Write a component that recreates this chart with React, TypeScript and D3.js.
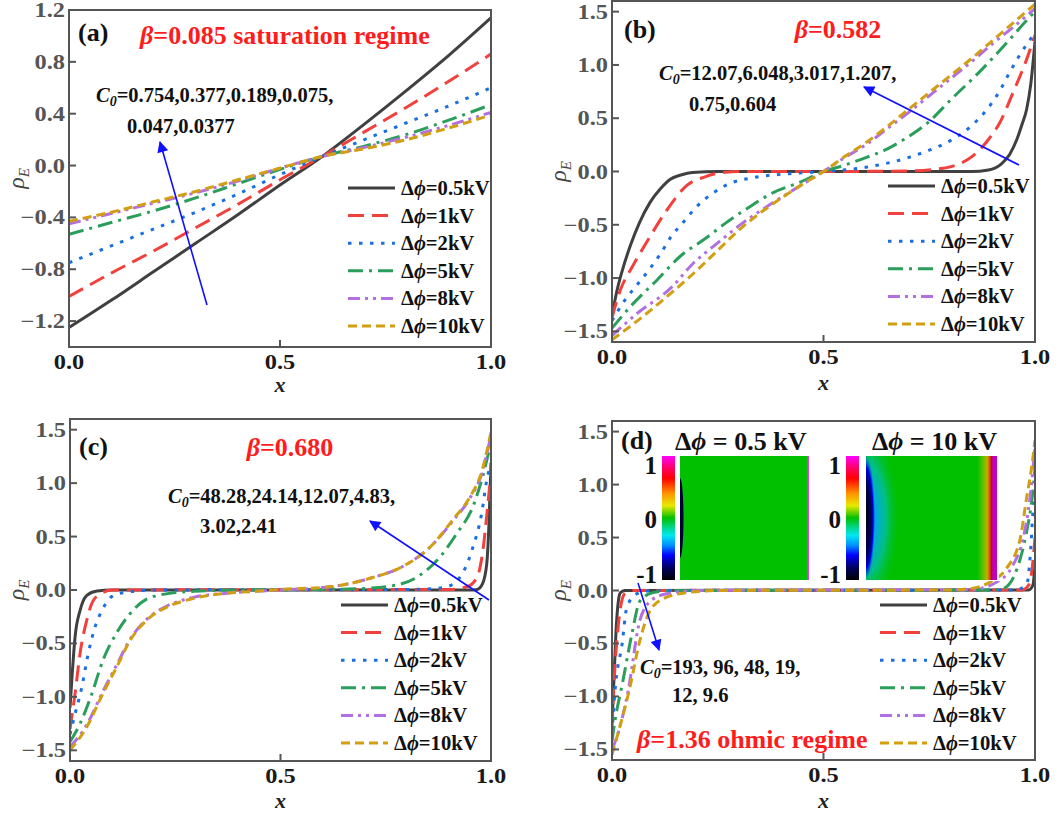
import React from 'react';
import * as d3 from 'd3';

type Pt = [number, number];

// ---------- Legend / style tables ----------
const SERIES_LABELS = ['0.5kV', '1kV', '2kV', '5kV', '8kV', '10kV'];
const COLORS = ['#404040', '#f2403d', '#1b6fe0', '#2a9e5a', '#b26fe0', '#d29f12'];
const DASHES = ['', '16 8', '3.5 7.5', '15 6 3 6', '12 5 3 5 3 5', '9 5'];

// ---------- Panel (a) beta=0.085 ----------
const A_X = [0, 0.1, 0.2, 0.3, 0.4, 0.5, 0.6, 0.7, 0.8, 0.9, 1.0];
const a05 = [-1.25, -1.04, -0.82, -0.6, -0.38, -0.15, 0.07, 0.32, 0.58, 0.85, 1.14];
const a1 = [-1.01, -0.83, -0.66, -0.48, -0.3, -0.11, 0.07, 0.26, 0.45, 0.65, 0.86];
const a2 = [-0.75, -0.62, -0.49, -0.36, -0.22, -0.07, 0.07, 0.2, 0.33, 0.46, 0.6];
const a5 = [-0.53, -0.44, -0.35, -0.25, -0.14, -0.03, 0.07, 0.15, 0.24, 0.35, 0.47];
const a8 = [-0.45, -0.37, -0.29, -0.21, -0.12, -0.02, 0.07, 0.14, 0.22, 0.31, 0.41];
const a10 = [-0.43, -0.36, -0.28, -0.2, -0.11, -0.02, 0.07, 0.13, 0.2, 0.29, 0.39];
const A_YTICKS = [-1.2, -0.8, -0.4, 0.0, 0.4, 0.8, 1.2];

// ---------- Panel (b) beta=0.582 ----------
const b05: Pt[] = [[0, -1.36], [0.01, -1.15], [0.025, -0.92], [0.043, -0.7], [0.065, -0.48], [0.09, -0.29], [0.115, -0.16], [0.137, -0.075], [0.165, -0.03], [0.19, -0.01], [0.25, 0], [0.5, 0], [0.85, 0], [0.89, 0.015], [0.92, 0.07], [0.94, 0.16], [0.957, 0.3], [0.97, 0.45], [0.98, 0.58], [0.99, 0.82], [1.0, 1.22]];
const b1: Pt[] = [[0, -1.37], [0.02, -1.11], [0.05, -0.88], [0.09, -0.61], [0.13, -0.36], [0.177, -0.13], [0.22, -0.05], [0.26, -0.01], [0.3, 0], [0.5, 0], [0.7, 0.005], [0.76, 0.02], [0.806, 0.05], [0.84, 0.11], [0.863, 0.18], [0.89, 0.3], [0.917, 0.46], [0.948, 0.74], [0.98, 1.05], [1.0, 1.28]];
const b2: Pt[] = [[0, -1.4], [0.03, -1.21], [0.06, -1.06], [0.09, -0.91], [0.115, -0.77], [0.14, -0.61], [0.17, -0.47], [0.2, -0.33], [0.24, -0.2], [0.28, -0.11], [0.33, -0.06], [0.42, -0.02], [0.5, 0], [0.6, 0.04], [0.7, 0.13], [0.75, 0.2], [0.8, 0.29], [0.85, 0.43], [0.89, 0.6], [0.92, 0.78], [0.94, 0.93], [0.965, 1.1], [1.0, 1.3]];
const b5: Pt[] = [[0, -1.47], [0.05, -1.24], [0.106, -1.02], [0.16, -0.8], [0.224, -0.62], [0.27, -0.48], [0.326, -0.33], [0.38, -0.2], [0.445, -0.1], [0.5, 0], [0.55, 0.06], [0.6, 0.13], [0.65, 0.21], [0.69, 0.3], [0.75, 0.47], [0.8, 0.67], [0.87, 0.94], [0.936, 1.22], [0.983, 1.43], [1.0, 1.5]];
const b8: Pt[] = [[0, -1.54], [0.06, -1.33], [0.14, -1.09], [0.19, -0.87], [0.25, -0.67], [0.31, -0.48], [0.37, -0.32], [0.43, -0.17], [0.5, 0], [0.55, 0.13], [0.6, 0.25], [0.65, 0.4], [0.7, 0.55], [0.75, 0.71], [0.8, 0.87], [0.85, 1.03], [0.9, 1.2], [0.95, 1.36], [1.0, 1.53]];
const b10: Pt[] = [[0, -1.58], [0.07, -1.37], [0.14, -1.14], [0.2, -0.93], [0.25, -0.74], [0.3, -0.55], [0.35, -0.39], [0.4, -0.25], [0.45, -0.12], [0.5, 0], [0.55, 0.14], [0.6, 0.27], [0.65, 0.42], [0.7, 0.58], [0.75, 0.74], [0.8, 0.9], [0.85, 1.06], [0.9, 1.23], [0.95, 1.4], [1.0, 1.57]];
const BCD_YTICKS = [-1.5, -1.0, -0.5, 0.0, 0.5, 1.0, 1.5];

// ---------- Panel (c) beta=0.680 ----------
const c05: Pt[] = [[0, -1.1], [0.005, -0.8], [0.012, -0.44], [0.024, -0.19], [0.04, -0.05], [0.064, -0.01], [0.1, 0], [0.95, 0], [0.967, 0.005], [0.98, 0.06], [0.99, 0.25], [0.995, 0.6], [1.0, 1.19]];
const c1: Pt[] = [[0, -1.3], [0.012, -0.97], [0.024, -0.59], [0.04, -0.28], [0.055, -0.1], [0.08, -0.02], [0.1, 0], [0.9, 0.005], [0.943, 0.03], [0.967, 0.12], [0.98, 0.35], [0.993, 0.82], [1.0, 1.1]];
const c2: Pt[] = [[0, -1.35], [0.012, -1.16], [0.028, -0.91], [0.043, -0.6], [0.06, -0.34], [0.076, -0.19], [0.1, -0.06], [0.135, -0.02], [0.2, 0], [0.8, 0.005], [0.86, 0.012], [0.895, 0.03], [0.933, 0.16], [0.957, 0.4], [0.978, 0.72], [0.99, 1.03], [1.0, 1.18]];
const c5: Pt[] = [[0, -1.42], [0.024, -1.25], [0.052, -0.97], [0.078, -0.66], [0.111, -0.4], [0.143, -0.22], [0.18, -0.09], [0.238, -0.03], [0.31, -0.01], [0.4, 0], [0.6, 0.005], [0.7, 0.015], [0.76, 0.035], [0.824, 0.12], [0.879, 0.31], [0.919, 0.53], [0.957, 0.78], [0.98, 1.06], [1.0, 1.38]];
const c8: Pt[] = [[0, -1.47], [0.04, -1.26], [0.078, -0.95], [0.111, -0.7], [0.143, -0.46], [0.183, -0.27], [0.23, -0.15], [0.292, -0.07], [0.373, -0.03], [0.45, -0.01], [0.5, 0], [0.618, 0.03], [0.713, 0.11], [0.79, 0.22], [0.855, 0.4], [0.91, 0.65], [0.95, 0.86], [0.979, 1.1], [1.0, 1.45]];
const c10: Pt[] = [[0, -1.5], [0.04, -1.28], [0.078, -0.97], [0.111, -0.72], [0.143, -0.47], [0.183, -0.28], [0.23, -0.16], [0.292, -0.08], [0.373, -0.03], [0.45, -0.01], [0.5, 0.005], [0.618, 0.03], [0.713, 0.11], [0.79, 0.22], [0.855, 0.4], [0.91, 0.66], [0.95, 0.87], [0.979, 1.12], [1.0, 1.48]];

// ---------- Panel (d) beta=1.36 ----------
const d05: Pt[] = [[0, -1.25], [0.005, -0.8], [0.01, -0.35], [0.015, -0.1], [0.02, -0.02], [0.03, 0], [0.985, 0.005], [0.995, 0.05], [1.0, 0.25]];
const d1: Pt[] = [[0, -1.3], [0.005, -0.85], [0.012, -0.45], [0.019, -0.19], [0.03, -0.03], [0.05, 0], [0.97, 0.005], [0.985, 0.05], [0.993, 0.2], [1.0, 0.5]];
const d2: Pt[] = [[0, -1.35], [0.007, -0.95], [0.024, -0.5], [0.035, -0.16], [0.059, -0.03], [0.1, 0], [0.95, 0.005], [0.98, 0.05], [0.99, 0.4], [0.995, 0.74], [1.0, 1.0]];
const d5: Pt[] = [[0, -1.42], [0.007, -1.23], [0.026, -0.85], [0.047, -0.41], [0.066, -0.1], [0.097, -0.02], [0.15, 0], [0.9, 0.005], [0.925, 0.02], [0.957, 0.2], [0.98, 0.55], [0.993, 0.87], [1.0, 1.15]];
const d8: Pt[] = [[0, -1.5], [0.011, -1.39], [0.038, -0.95], [0.066, -0.28], [0.094, -0.09], [0.13, -0.03], [0.2, 0], [0.85, 0.01], [0.91, 0.08], [0.948, 0.24], [0.972, 0.49], [0.988, 0.87], [1.0, 1.35]];
const d10: Pt[] = [[0, -1.55], [0.007, -1.45], [0.042, -0.92], [0.066, -0.47], [0.09, -0.19], [0.12, -0.08], [0.177, -0.02], [0.25, 0], [0.8, 0.005], [0.85, 0.02], [0.894, 0.08], [0.933, 0.21], [0.965, 0.49], [0.98, 0.87], [0.993, 1.19], [1.0, 1.42]];

// colormap of the insets (value 1 at top -> -1 at bottom)
const CMAP: [number, string][] = [
  [0, '#ff00ff'], [0.1, '#ff0060'], [0.18, '#ff0000'], [0.3, '#ff9000'], [0.4, '#e8e800'],
  [0.5, '#00c000'], [0.58, '#00d890'], [0.64, '#00e8f0'], [0.72, '#0090ff'], [0.8, '#0000ff'],
  [0.9, '#000060'], [1, '#000000'],
];

const FONT = '"Liberation Serif", "Times New Roman", serif';
const zip = (xs: number[], ys: number[]): Pt[] => xs.map((x, i) => [x, ys[i]]);

type PanelSpec = {
  id: string; x0: number; x1: number; y0: number; y1: number;
  yDom: [number, number]; yTicks: number[]; series: Pt[][];
  legX: number; legY: number; legStep: number;
  ylabX: number; xlabY: number;
};

const PANELS: PanelSpec[] = [
  { id: 'a', x0: 69, x1: 491, y0: 10, y1: 347, yDom: [-1.4, 1.2], yTicks: A_YTICKS,
    series: [zip(A_X, a05), zip(A_X, a1), zip(A_X, a2), zip(A_X, a5), zip(A_X, a8), zip(A_X, a10)],
    legX: 348, legY: 188, legStep: 27.6, ylabX: 24, xlabY: 392 },
  { id: 'b', x0: 612, x1: 1035, y0: 1, y1: 342, yDom: [-1.6, 1.6], yTicks: BCD_YTICKS,
    series: [b05, b1, b2, b5, b8, b10], legX: 888, legY: 186, legStep: 27.6, ylabX: 566, xlabY: 390 },
  { id: 'c', x0: 70, x1: 491, y0: 419, y1: 761, yDom: [-1.6, 1.6], yTicks: BCD_YTICKS,
    series: [c05, c1, c2, c5, c8, c10], legX: 341, legY: 605, legStep: 27.6, ylabX: 24, xlabY: 808 },
  { id: 'd', x0: 612, x1: 1035, y0: 421, y1: 760, yDom: [-1.6, 1.6], yTicks: BCD_YTICKS,
    series: [d05, d1, d2, d5, d8, d10], legX: 880, legY: 605, legStep: 27.6, ylabX: 566, xlabY: 808 },
];

// horizontally widened text (the reference glyphs are wider than Liberation Serif)
const WideText = ({ x, y, sx, anchor, size, fill, children, dy }: any) => (
  <text transform={`translate(${x},${y}) scale(${sx},1)`} textAnchor={anchor || 'start'} dy={dy}
    fontFamily={FONT} fontWeight="bold" fontSize={size} fill={fill}>{children}</text>
);

function Panel({ p }: { p: PanelSpec }) {
  const x = d3.scaleLinear().domain([0, 1]).range([p.x0, p.x1]);
  const y = d3.scaleLinear().domain(p.yDom).range([p.y1, p.y0]);
  const line = d3.line<Pt>().x(d => x(d[0])).y(d => y(d[1])).curve(d3.curveMonotoneX);
  const axisColor = '#555';
  const xTicks = [0, 0.5, 1];
  return (
    <g>
      <defs>
        <clipPath id={`clip-${p.id}`}>
          <rect x={p.x0} y={p.y0} width={p.x1 - p.x0} height={p.y1 - p.y0} />
        </clipPath>
      </defs>
      <g clipPath={`url(#clip-${p.id})`}>
        {p.series.map((s, i) => (
          <path key={i} d={line(s) || ''} fill="none" stroke={COLORS[i]} strokeWidth={3}
            strokeDasharray={DASHES[i] || undefined} />
        ))}
      </g>
      <rect x={p.x0} y={p.y0} width={p.x1 - p.x0} height={p.y1 - p.y0} fill="none" stroke={axisColor} strokeWidth={2} />
      {p.yTicks.map(t => (
        <g key={'y' + t}>
          <line x1={p.x0} x2={p.x0 + 7} y1={y(t)} y2={y(t)} stroke={axisColor} strokeWidth={2} />
          <WideText x={p.x0 - 4} y={y(t)} dy="0.35em" sx={1.22} anchor="end" size={20} fill="#555">
            {d3.format('.1f')(t)}
          </WideText>
        </g>
      ))}
      {xTicks.map(t => (
        <g key={'x' + t}>
          <line x1={x(t)} x2={x(t)} y1={p.y1} y2={p.y1 - 7} stroke={axisColor} strokeWidth={2} />
          <WideText x={x(t)} y={p.y1 + 22} sx={1.22} anchor="middle" size={20} fill="#1a1a1a">
            {d3.format('.1f')(t)}
          </WideText>
        </g>
      ))}
      <text x={(p.x0 + p.x1) / 2} y={p.xlabY} textAnchor="middle" fontFamily={FONT} fontWeight="bold"
        fontStyle="italic" fontSize={22} fill="#222">x</text>
      <text transform={`translate(${p.ylabX},${(p.y0 + p.y1) / 2}) rotate(-90)`} textAnchor="middle"
        fontFamily={FONT} fontStyle="italic" fontSize={24} fill="#444">
        ρ<tspan fontSize={15} dy={5}>E</tspan>
      </text>
      {SERIES_LABELS.map((lab, i) => {
        const ly = p.legY + i * p.legStep;
        return (
          <g key={'l' + i}>
            <line x1={p.legX} x2={p.legX + 47} y1={ly} y2={ly} stroke={COLORS[i]} strokeWidth={3}
              strokeDasharray={DASHES[i] || undefined} />
            <WideText x={p.legX + 53} y={ly} dy="0.35em" sx={1.03} size={20} fill="#111">
              <tspan>Δ</tspan><tspan fontStyle="italic">ϕ</tspan><tspan>={lab}</tspan>
            </WideText>
          </g>
        );
      })}
    </g>
  );
}

const Arrow = ({ x1, y1, x2, y2 }: { x1: number; y1: number; x2: number; y2: number }) => (
  <line x1={x1} y1={y1} x2={x2} y2={y2} stroke="#1010ff" strokeWidth={1.6} markerEnd="url(#arrowhead)" />
);

const C0 = ({ x, y, text }: { x: number; y: number; text: string }) => (
  <text x={x} y={y} fontFamily={FONT} fontWeight="bold" fontSize={20.5} fill="#111">
    <tspan fontStyle="italic">C</tspan>
    <tspan fontStyle="italic" fontSize={14} dy={4}>0</tspan>
    <tspan dy={-4}>{text}</tspan>
  </text>
);

const Line2 = ({ x, y, text }: { x: number; y: number; text: string }) => (
  <text x={x} y={y} fontFamily={FONT} fontWeight="bold" fontSize={20.5} fill="#111">{text}</text>
);

const Beta = ({ x, y, text, anchor }: { x: number; y: number; text: string; anchor?: string }) => (
  <text x={x} y={y} textAnchor={anchor || 'start'} fontFamily={FONT} fontWeight="bold" fontSize={26} fill="#ff1c1c">
    <tspan fontStyle="italic">β</tspan>{text}
  </text>
);

const PanelTag = ({ x, y, t }: { x: number; y: number; t: string }) => (
  <text x={x} y={y} fontFamily={FONT} fontWeight="bold" fontSize={26} fill="#111">{t}</text>
);

function Inset({ cbX, hmX, hmW, title, titleX, variant }: { cbX: number; hmX: number; hmW: number; title: string; titleX: number; variant: number }) {
  const top = 456, bot = 580;
  const cb = d3.scaleLinear().domain([1, -1]).range([top + 9, bot - 6]);
  return (
    <g>
      <rect x={cbX - 26} y={top - 1} width={hmX + hmW - cbX + 28} height={bot - top + 2} fill="#fff" />
      <rect x={cbX} y={top} width={13} height={bot - top} fill="url(#cmapGrad)" />
      {[1, 0, -1].map(v => (
        <text key={v} x={cbX - 5} y={cb(v)} dy="0.35em" textAnchor="end" fontFamily={FONT} fontWeight="bold"
          fontSize={25} fill="#111">{v === -1 ? '-1' : String(v)}</text>
      ))}
      <clipPath id={`hmclip${variant}`}>
        <rect x={hmX} y={top} width={hmW} height={bot - top} />
      </clipPath>
      <g clipPath={`url(#hmclip${variant})`}>
        <rect x={hmX} y={top} width={hmW} height={bot - top} fill="#00c000" />
        {variant === 0 ? (
          <>
            <ellipse cx={hmX} cy={518} rx={3.5} ry={40} fill="#000033" />
            <rect x={hmX + hmW - 1.5} y={top} width={1.5} height={bot - top} fill="#e040e0" />
          </>
        ) : (
          <>
            <ellipse cx={hmX} cy={518} rx={34} ry={95} fill="url(#leftGlow)" />
            <ellipse cx={hmX} cy={518} rx={9} ry={62} fill="url(#leftCore)" />
            <rect x={hmX + hmW - 20} y={top} width={20} height={bot - top} fill="url(#rightStrip)" />
          </>
        )}
      </g>
      <text x={titleX} y={450} fontFamily={FONT} fontWeight="bold" fontSize={26} fill="#111">
        <tspan>Δ</tspan><tspan fontStyle="italic">ϕ</tspan><tspan> = {title}</tspan>
      </text>
    </g>
  );
}

export default function App() {
  return (
    <svg width={1061} height={815} style={{ position: 'absolute', left: 0, top: 0, background: '#fff' }}>
      <defs>
        <marker id="arrowhead" viewBox="0 0 10 10" refX={9} refY={5} markerWidth={8} markerHeight={7}
          markerUnits="strokeWidth" orient="auto">
          <path d="M0,0 L10,5 L0,10 z" fill="#1010ff" />
        </marker>
        <linearGradient id="cmapGrad" x1="0" y1="0" x2="0" y2="1">
          {CMAP.map(([o, c], i) => <stop key={i} offset={o} stopColor={c} />)}
        </linearGradient>
        <radialGradient id="leftGlow" cx="0.5" cy="0.5" r="0.5">
          <stop offset="0" stopColor="#0060ff" />
          <stop offset="0.3" stopColor="#00a8e0" />
          <stop offset="0.6" stopColor="#00c080" />
          <stop offset="1" stopColor="#00c000" stopOpacity={0} />
        </radialGradient>
        <radialGradient id="leftCore" cx="0.5" cy="0.5" r="0.5">
          <stop offset="0" stopColor="#000010" />
          <stop offset="0.55" stopColor="#000050" />
          <stop offset="0.8" stopColor="#0000e0" />
          <stop offset="1" stopColor="#0040ff" stopOpacity={0} />
        </radialGradient>
        <linearGradient id="rightStrip" x1="0" y1="0" x2="1" y2="0">
          <stop offset="0" stopColor="#00c000" />
          <stop offset="0.3" stopColor="#60c000" />
          <stop offset="0.5" stopColor="#c0b000" />
          <stop offset="0.62" stopColor="#d06000" />
          <stop offset="0.72" stopColor="#d00030" />
          <stop offset="0.8" stopColor="#c000c0" />
          <stop offset="1" stopColor="#c000c0" />
        </linearGradient>
      </defs>

      {PANELS.map(p => <Panel key={p.id} p={p} />)}

      {/* panel (a) annotations */}
      <PanelTag x={78} y={41} t="(a)" />
      <Beta x={140} y={44} text="=0.085 saturation regime" />
      <C0 x={96} y={102} text="=0.754,0.377,0.189,0.075," />
      <Line2 x={127} y={133} text="0.047,0.0377" />
      <Arrow x1={207} y1={305} x2={160} y2={142} />

      {/* panel (b) annotations */}
      <PanelTag x={624} y={38} t="(b)" />
      <Beta x={838} y={38} text="=0.582" anchor="middle" />
      <C0 x={659} y={80} text="=12.07,6.048,3.017,1.207," />
      <Line2 x={689} y={111} text="0.75,0.604" />
      <Arrow x1={1019} y1={165} x2={864} y2={87} />

      {/* panel (c) annotations */}
      <PanelTag x={79} y={455} t="(c)" />
      <Beta x={290} y={456} text="=0.680" anchor="middle" />
      <C0 x={168} y={503} text="=48.28,24.14,12.07,4.83," />
      <Line2 x={200} y={533} text="3.02,2.41" />
      <Arrow x1={489} y1={600} x2={370} y2={521} />

      {/* panel (d) annotations */}
      <Inset cbX={662} hmX={680} hmW={129} title="0.5 kV" titleX={675} variant={0} />
      <Inset cbX={846} hmX={866} hmW={131} title="10 kV" titleX={872} variant={1} />
      <PanelTag x={621} y={449} t="(d)" />
      <C0 x={640} y={674} text="=193, 96, 48, 19," />
      <Line2 x={672} y={702} text="12, 9.6" />
      <Beta x={637} y={748} text="=1.36 ohmic regime" />
      <Arrow x1={638} y1={583} x2={659} y2={650} />
    </svg>
  );
}
